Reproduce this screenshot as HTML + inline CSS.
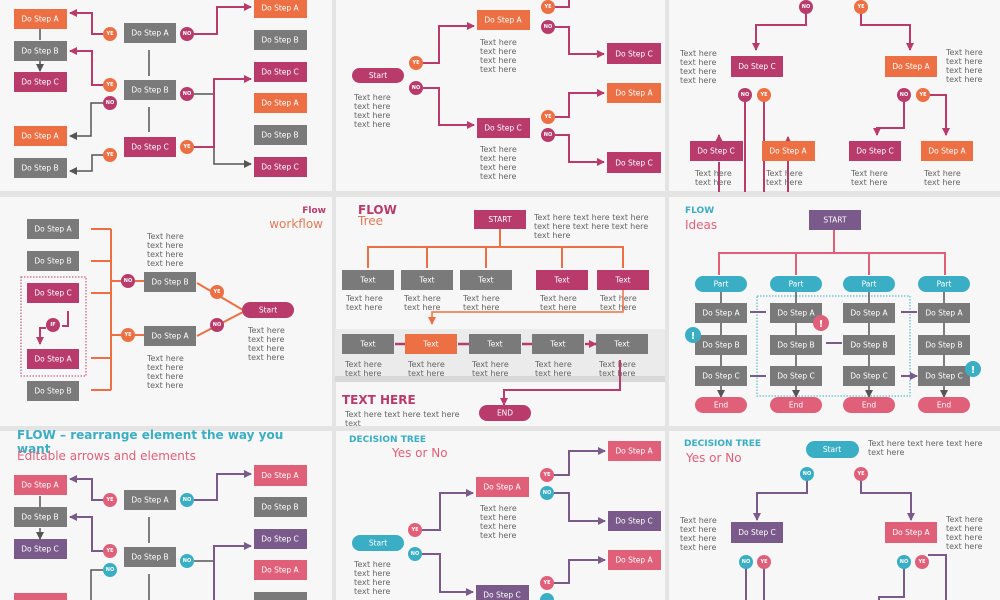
<!DOCTYPE html>
<html><head><meta charset="utf-8"><style>
html,body{margin:0;padding:0;background:#e4e4e4}
svg{display:block}
text{font-family:"DejaVu Sans","Liberation Sans",sans-serif}
.b{font-size:7.5px;fill:#fff;text-anchor:middle;dominant-baseline:central}
.t{font-size:8px;fill:#666}
.c{font-size:5px;fill:#fff;text-anchor:middle;dominant-baseline:central;font-weight:bold}
</style></head><body>
<svg width="1000" height="600" viewBox="0 0 1000 600" xmlns="http://www.w3.org/2000/svg">
<defs>
<marker id="am" markerWidth="10" markerHeight="10" refX="7" refY="4" orient="auto" markerUnits="userSpaceOnUse"><path d="M0,0L8,4L0,8z" fill="#b83b6c"/></marker>
<marker id="ag" markerWidth="10" markerHeight="10" refX="7" refY="4" orient="auto" markerUnits="userSpaceOnUse"><path d="M0,0L8,4L0,8z" fill="#555"/></marker>
<marker id="ao" markerWidth="10" markerHeight="10" refX="7" refY="4" orient="auto" markerUnits="userSpaceOnUse"><path d="M0,0L8,4L0,8z" fill="#ec7044"/></marker>
<marker id="ap" markerWidth="10" markerHeight="10" refX="7" refY="4" orient="auto" markerUnits="userSpaceOnUse"><path d="M0,0L8,4L0,8z" fill="#7a5a8a"/></marker>
</defs>
<rect width="1000" height="600" fill="#e4e4e4"/>
<rect x="0" y="0" width="332" height="191" fill="#f7f7f7"/>
<rect x="336" y="0" width="329" height="191" fill="#f7f7f7"/>
<rect x="669" y="0" width="331" height="191" fill="#f7f7f7"/>
<rect x="0" y="197" width="332" height="229" fill="#f7f7f7"/>
<rect x="336" y="197" width="329" height="229" fill="#f7f7f7"/>
<rect x="669" y="197" width="331" height="229" fill="#f7f7f7"/>
<rect x="0" y="431" width="332" height="169" fill="#f7f7f7"/>
<rect x="336" y="431" width="329" height="169" fill="#f7f7f7"/>
<rect x="669" y="431" width="331" height="169" fill="#f7f7f7"/>

<!-- PANEL 1 -->
<g fill="none" stroke-width="2">
<path d="M103,34H92V13H70" stroke="#b83b6c" marker-end="url(#am)"/>
<path d="M103,85H92V51H70" stroke="#b83b6c" marker-end="url(#am)"/>
<path d="M103,103H91V136H70" stroke="#555" stroke-width="1.5" marker-end="url(#ag)"/>
<path d="M103,155H92V171H70" stroke="#555" stroke-width="1.5" marker-end="url(#ag)"/>
<path d="M194,34H217V7H251" stroke="#b83b6c" marker-end="url(#am)"/>
<path d="M194,94H214V164H251" stroke="#555" stroke-width="1.5" marker-end="url(#ag)"/>
<path d="M194,147H214V79H251" stroke="#b83b6c" marker-end="url(#am)"/>
<path d="M149,50V76M149,107V132M40,29V40M40,61V71" stroke="#555" stroke-width="1.5" marker-end="url(#ag)"/>
</g>
<rect x="14" y="9" width="53" height="20" fill="#ec7044"/><text class="b" x="40" y="19">Do Step A</text>
<rect x="14" y="41" width="53" height="20" fill="#7a7a7a"/><text class="b" x="40" y="51">Do Step B</text>
<rect x="14" y="72" width="53" height="20" fill="#b83b6c"/><text class="b" x="40" y="82">Do Step C</text>
<rect x="14" y="126" width="53" height="20" fill="#ec7044"/><text class="b" x="40" y="136">Do Step A</text>
<rect x="14" y="158" width="53" height="20" fill="#7a7a7a"/><text class="b" x="40" y="168">Do Step B</text>
<rect x="124" y="23" width="52" height="20" fill="#7a7a7a"/><text class="b" x="150" y="33">Do Step A</text>
<rect x="124" y="80" width="52" height="20" fill="#7a7a7a"/><text class="b" x="150" y="90">Do Step B</text>
<rect x="124" y="137" width="52" height="20" fill="#b83b6c"/><text class="b" x="150" y="147">Do Step C</text>
<rect x="254" y="-2" width="53" height="20" fill="#ec7044"/><text class="b" x="280" y="8">Do Step A</text>
<rect x="254" y="30" width="53" height="20" fill="#7a7a7a"/><text class="b" x="280" y="40">Do Step B</text>
<rect x="254" y="62" width="53" height="20" fill="#b83b6c"/><text class="b" x="280" y="72">Do Step C</text>
<rect x="254" y="93" width="53" height="20" fill="#ec7044"/><text class="b" x="280" y="103">Do Step A</text>
<rect x="254" y="125" width="53" height="20" fill="#7a7a7a"/><text class="b" x="280" y="135">Do Step B</text>
<rect x="254" y="157" width="53" height="20" fill="#b83b6c"/><text class="b" x="280" y="167">Do Step C</text>
<circle cx="110" cy="34" r="7" fill="#ec7044"/><text class="c" x="110" y="34">YE</text>
<circle cx="187" cy="34" r="7" fill="#b83b6c"/><text class="c" x="187" y="34">NO</text>
<circle cx="110" cy="85" r="7" fill="#ec7044"/><text class="c" x="110" y="85">YE</text>
<circle cx="110" cy="103" r="7" fill="#b83b6c"/><text class="c" x="110" y="103">NO</text>
<circle cx="187" cy="94" r="7" fill="#b83b6c"/><text class="c" x="187" y="94">NO</text>
<circle cx="110" cy="155" r="7" fill="#ec7044"/><text class="c" x="110" y="155">YE</text>
<circle cx="187" cy="147" r="7" fill="#ec7044"/><text class="c" x="187" y="147">YE</text>

<!-- PANEL 2 -->
<g fill="none" stroke="#b83b6c" stroke-width="2">
<path d="M423,63H439V26H474" marker-end="url(#am)"/>
<path d="M423,88H439V125H474" marker-end="url(#am)"/>
<path d="M555,7H569V0"/>
<path d="M555,27H569V54H604" marker-end="url(#am)"/>
<path d="M555,117H569V93H604" marker-end="url(#am)"/>
<path d="M555,135H569V162H604" marker-end="url(#am)"/>
</g>
<rect x="352" y="68" width="52" height="15" rx="7.5" fill="#b83b6c"/><text class="b" x="378" y="75.5">Start</text>
<text class="t" x="354" y="100">Text here</text><text class="t" x="354" y="109">text here</text><text class="t" x="354" y="118">text here</text><text class="t" x="354" y="127">text here</text>
<rect x="477" y="10" width="53" height="20" fill="#ec7044"/><text class="b" x="503" y="20">Do Step A</text>
<text class="t" x="480" y="45">Text here</text><text class="t" x="480" y="54">text here</text><text class="t" x="480" y="63">text here</text><text class="t" x="480" y="72">text here</text>
<rect x="477" y="118" width="53" height="20" fill="#b83b6c"/><text class="b" x="503" y="128">Do Step C</text>
<text class="t" x="480" y="152">Text here</text><text class="t" x="480" y="161">text here</text><text class="t" x="480" y="170">text here</text><text class="t" x="480" y="179">text here</text>
<rect x="607" y="43" width="54" height="21" fill="#b83b6c"/><text class="b" x="634" y="54">Do Step C</text>
<rect x="607" y="83" width="54" height="20" fill="#ec7044"/><text class="b" x="634" y="93">Do Step A</text>
<rect x="607" y="152" width="54" height="21" fill="#b83b6c"/><text class="b" x="634" y="163">Do Step C</text>
<circle cx="416" cy="63" r="7" fill="#ec7044"/><text class="c" x="416" y="63">YE</text>
<circle cx="416" cy="88" r="7" fill="#b83b6c"/><text class="c" x="416" y="88">NO</text>
<circle cx="548" cy="7" r="7" fill="#ec7044"/><text class="c" x="548" y="7">YE</text>
<circle cx="548" cy="27" r="7" fill="#b83b6c"/><text class="c" x="548" y="27">NO</text>
<circle cx="548" cy="117" r="7" fill="#ec7044"/><text class="c" x="548" y="117">YE</text>
<circle cx="548" cy="135" r="7" fill="#b83b6c"/><text class="c" x="548" y="135">NO</text>

<!-- PANEL 3 -->
<g fill="none" stroke="#b83b6c" stroke-width="2">
<path d="M806,12V25H756V50" marker-end="url(#am)"/>
<path d="M861,12V25H910V50" marker-end="url(#am)"/>
<path d="M745,100V192M764,100V192"/>
<path d="M719,162V192"/>
<path d="M788,192V137" marker-end="url(#am)"/>
<path d="M719,142V135" marker-end="url(#am)"/>
<path d="M904,100V128H877V135" marker-end="url(#am)"/>
<path d="M928,95H946V135" marker-end="url(#am)"/>
</g>
<text class="t" x="680" y="56">Text here</text><text class="t" x="680" y="65">text here</text><text class="t" x="680" y="74">text here</text><text class="t" x="680" y="83">text here</text>
<rect x="731" y="56" width="52" height="21" fill="#b83b6c"/><text class="b" x="757" y="66.5">Do Step C</text>
<rect x="885" y="56" width="52" height="21" fill="#ec7044"/><text class="b" x="911" y="66.5">Do Step A</text>
<text class="t" x="946" y="55">Text here</text><text class="t" x="946" y="64">text here</text><text class="t" x="946" y="73">text here</text><text class="t" x="946" y="82">text here</text>
<rect x="690" y="141" width="53" height="20" fill="#b83b6c"/><text class="b" x="716" y="151">Do Step C</text>
<rect x="762" y="141" width="53" height="20" fill="#ec7044"/><text class="b" x="788" y="151">Do Step A</text>
<rect x="849" y="141" width="52" height="20" fill="#b83b6c"/><text class="b" x="875" y="151">Do Step C</text>
<rect x="921" y="141" width="52" height="20" fill="#ec7044"/><text class="b" x="947" y="151">Do Step A</text>
<text class="t" x="695" y="176">Text here</text><text class="t" x="695" y="185">text here</text>
<text class="t" x="766" y="176">Text here</text><text class="t" x="766" y="185">text here</text>
<text class="t" x="851" y="176">Text here</text><text class="t" x="851" y="185">text here</text>
<text class="t" x="924" y="176">Text here</text><text class="t" x="924" y="185">text here</text>
<circle cx="806" cy="7" r="7" fill="#b83b6c"/><text class="c" x="806" y="7">NO</text>
<circle cx="861" cy="7" r="7" fill="#ec7044"/><text class="c" x="861" y="7">YE</text>
<circle cx="745" cy="95" r="7" fill="#b83b6c"/><text class="c" x="745" y="95">NO</text>
<circle cx="764" cy="95" r="7" fill="#ec7044"/><text class="c" x="764" y="95">YE</text>
<circle cx="904" cy="95" r="7" fill="#b83b6c"/><text class="c" x="904" y="95">NO</text>
<circle cx="923" cy="95" r="7" fill="#ec7044"/><text class="c" x="923" y="95">YE</text>

<!-- PANEL 4 -->
<text x="326" y="213" text-anchor="end" font-size="9" font-weight="bold" fill="#b83b6c">Flow</text>
<text x="323" y="228" text-anchor="end" font-size="12" fill="#e07a58">workflow</text>
<g fill="none" stroke="#ec7044" stroke-width="2">
<path d="M91,229H111M91,261H111M91,293H111M91,358H111M91,390H111M111,229V390M111,281H144M111,335H144"/>
<path d="M197,283L243,310M197,336L243,312"/>
</g>
<rect x="21" y="277" width="65" height="99" fill="none" stroke="#b83b6c" stroke-width="1" stroke-dasharray="1.5,1.5"/>
<path d="M68,311V326H62M46,328H40V344" fill="none" stroke="#b83b6c" stroke-width="2" marker-end="url(#am)"/>
<rect x="27" y="219" width="52" height="20" fill="#7a7a7a"/><text class="b" x="53" y="229">Do Step A</text>
<rect x="27" y="251" width="52" height="20" fill="#7a7a7a"/><text class="b" x="53" y="261">Do Step B</text>
<rect x="27" y="283" width="52" height="20" fill="#b83b6c"/><text class="b" x="53" y="293">Do Step C</text>
<rect x="27" y="349" width="52" height="20" fill="#b83b6c"/><text class="b" x="53" y="359">Do Step A</text>
<rect x="27" y="381" width="52" height="20" fill="#7a7a7a"/><text class="b" x="53" y="391">Do Step B</text>
<circle cx="53" cy="325" r="7" fill="#b83b6c"/><text class="c" x="53" y="325">IF</text>
<rect x="144" y="272" width="52" height="20" fill="#7a7a7a"/><text class="b" x="170" y="282">Do Step B</text>
<rect x="144" y="326" width="52" height="20" fill="#7a7a7a"/><text class="b" x="170" y="336">Do Step A</text>
<text class="t" x="147" y="239">Text here</text><text class="t" x="147" y="248">text here</text><text class="t" x="147" y="257">text here</text><text class="t" x="147" y="266">text here</text>
<text class="t" x="147" y="361">Text here</text><text class="t" x="147" y="370">text here</text><text class="t" x="147" y="379">text here</text><text class="t" x="147" y="388">text here</text>
<circle cx="128" cy="281" r="7" fill="#b83b6c"/><text class="c" x="128" y="281">NO</text>
<circle cx="128" cy="335" r="7" fill="#ec7044"/><text class="c" x="128" y="335">YE</text>
<circle cx="217" cy="292" r="7" fill="#ec7044"/><text class="c" x="217" y="292">YE</text>
<circle cx="217" cy="325" r="7" fill="#b83b6c"/><text class="c" x="217" y="325">NO</text>
<rect x="242" y="302" width="52" height="16" rx="8" fill="#b83b6c"/><text class="b" x="268" y="310">Start</text>
<text class="t" x="248" y="333">Text here</text><text class="t" x="248" y="342">text here</text><text class="t" x="248" y="351">text here</text><text class="t" x="248" y="360">text here</text>

<!-- PANEL 5 -->
<text x="358" y="214" font-size="12" font-weight="bold" fill="#b83b6c">FLOW</text>
<text x="358" y="225" font-size="12" fill="#e07a58">Tree</text>
<rect x="474" y="210" width="52" height="19" fill="#b83b6c"/><text class="b" x="500" y="219.5">START</text>
<text class="t" x="534" y="220">Text here text here text here</text><text class="t" x="534" y="229">text here text here text here</text><text class="t" x="534" y="238">text here</text>
<path d="M500,229V247M368,268V247H623V268M427,247V268M486,247V268M562,247V268" fill="none" stroke="#ec7044" stroke-width="2"/>
<rect x="335" y="329" width="330" height="53" fill="#ebebeb"/>
<rect x="335" y="376" width="330" height="6" fill="#d8d8d8"/>
<rect x="342" y="270" width="52" height="20" fill="#7a7a7a"/><text class="b" x="368" y="280">Text</text>
<rect x="401" y="270" width="52" height="20" fill="#7a7a7a"/><text class="b" x="427" y="280">Text</text>
<rect x="460" y="270" width="52" height="20" fill="#7a7a7a"/><text class="b" x="486" y="280">Text</text>
<rect x="536" y="270" width="52" height="20" fill="#b83b6c"/><text class="b" x="562" y="280">Text</text>
<rect x="597" y="270" width="52" height="20" fill="#b83b6c"/><text class="b" x="623" y="280">Text</text>
<text class="t" x="346" y="301">Text here</text><text class="t" x="346" y="310">text here</text>
<text class="t" x="404" y="301">Text here</text><text class="t" x="404" y="310">text here</text>
<text class="t" x="463" y="301">Text here</text><text class="t" x="463" y="310">text here</text>
<text class="t" x="540" y="301">Text here</text><text class="t" x="540" y="310">text here</text>
<text class="t" x="600" y="301">Text here</text><text class="t" x="600" y="310">text here</text>
<path d="M623,290V312H432V324" fill="none" stroke="#ec7044" stroke-width="1.5" marker-end="url(#ao)"/>
<rect x="342" y="334" width="52" height="20" fill="#7a7a7a"/><text class="b" x="368" y="344">Text</text>
<rect x="405" y="334" width="52" height="20" fill="#ec7044"/><text class="b" x="431" y="344">Text</text>
<rect x="469" y="334" width="52" height="20" fill="#7a7a7a"/><text class="b" x="495" y="344">Text</text>
<rect x="532" y="334" width="52" height="20" fill="#7a7a7a"/><text class="b" x="558" y="344">Text</text>
<rect x="596" y="334" width="52" height="20" fill="#7a7a7a"/><text class="b" x="622" y="344">Text</text>
<path d="M395,344H405M458,344H469M522,344H532M585,344H596" fill="none" stroke="#b83b6c" stroke-width="2.5" marker-end="url(#am)"/>
<text class="t" x="345" y="367">Text here</text><text class="t" x="345" y="376">text here</text>
<text class="t" x="408" y="367">Text here</text><text class="t" x="408" y="376">text here</text>
<text class="t" x="472" y="367">Text here</text><text class="t" x="472" y="376">text here</text>
<text class="t" x="535" y="367">Text here</text><text class="t" x="535" y="376">text here</text>
<text class="t" x="599" y="367">Text here</text><text class="t" x="599" y="376">text here</text>
<path d="M620,360V390H504V405" fill="none" stroke="#b83b6c" stroke-width="2" marker-end="url(#am)"/>
<text x="342" y="404" font-size="12" font-weight="bold" fill="#b83b6c">TEXT HERE</text>
<text class="t" x="345" y="417">Text here text here text here</text><text class="t" x="345" y="426">text</text>
<rect x="479" y="405" width="52" height="16" rx="8" fill="#b83b6c"/><text class="b" x="505" y="413">END</text>

<!-- PANEL 6 -->
<text x="685" y="213" font-size="9" font-weight="bold" fill="#3aaec4">FLOW</text>
<text x="685" y="229" font-size="12" fill="#e0607a">Ideas</text>
<rect x="809" y="210" width="52" height="20" fill="#7a5a8a"/><text class="b" x="835" y="220">START</text>
<path d="M834,230V253M719,275V253H945V275M796,253V275M869,253V275" fill="none" stroke="#e0607a" stroke-width="2"/>
<rect x="757" y="296" width="153" height="100" fill="none" stroke="#3aaec4" stroke-width="1" stroke-dasharray="1.5,1.5"/>
<rect x="695" y="276" width="52" height="16" rx="8" fill="#3aaec4"/><text class="b" x="721" y="284">Part</text>
<rect x="770" y="276" width="52" height="16" rx="8" fill="#3aaec4"/><text class="b" x="796" y="284">Part</text>
<rect x="843" y="276" width="52" height="16" rx="8" fill="#3aaec4"/><text class="b" x="869" y="284">Part</text>
<rect x="918" y="276" width="52" height="16" rx="8" fill="#3aaec4"/><text class="b" x="944" y="284">Part</text>
<g fill="none" stroke="#555" stroke-width="1.5" marker-end="url(#ag)">
<path d="M721,292V303M721,323V335M721,355V366M721,386V397"/>
<path d="M796,292V303M796,323V335M796,355V366M796,386V397"/>
<path d="M869,292V303M869,323V335M869,355V366M869,386V397"/>
<path d="M944,292V303M944,323V335M944,355V366M944,386V397"/>
</g>
<rect x="695" y="303" width="52" height="20" fill="#7a7a7a"/><text class="b" x="721" y="313">Do Step A</text>
<rect x="695" y="335" width="52" height="20" fill="#7a7a7a"/><text class="b" x="721" y="345">Do Step B</text>
<rect x="695" y="366" width="52" height="20" fill="#7a7a7a"/><text class="b" x="721" y="376">Do Step C</text>
<rect x="770" y="303" width="52" height="20" fill="#7a7a7a"/><text class="b" x="796" y="313">Do Step A</text>
<rect x="770" y="335" width="52" height="20" fill="#7a7a7a"/><text class="b" x="796" y="345">Do Step B</text>
<rect x="770" y="366" width="52" height="20" fill="#7a7a7a"/><text class="b" x="796" y="376">Do Step C</text>
<rect x="843" y="303" width="52" height="20" fill="#7a7a7a"/><text class="b" x="869" y="313">Do Step A</text>
<rect x="843" y="335" width="52" height="20" fill="#7a7a7a"/><text class="b" x="869" y="345">Do Step B</text>
<rect x="843" y="366" width="52" height="20" fill="#7a7a7a"/><text class="b" x="869" y="376">Do Step C</text>
<rect x="918" y="303" width="52" height="20" fill="#7a7a7a"/><text class="b" x="944" y="313">Do Step A</text>
<rect x="918" y="335" width="52" height="20" fill="#7a7a7a"/><text class="b" x="944" y="345">Do Step B</text>
<rect x="918" y="366" width="52" height="20" fill="#7a7a7a"/><text class="b" x="944" y="376">Do Step C</text>
<rect x="695" y="397" width="52" height="16" rx="8" fill="#e0607a"/><text class="b" x="721" y="405">End</text>
<rect x="770" y="397" width="52" height="16" rx="8" fill="#e0607a"/><text class="b" x="796" y="405">End</text>
<rect x="843" y="397" width="52" height="16" rx="8" fill="#e0607a"/><text class="b" x="869" y="405">End</text>
<rect x="918" y="397" width="52" height="16" rx="8" fill="#e0607a"/><text class="b" x="944" y="405">End</text>
<path d="M750,312H766M750,376H766M826,343H842M901,312H917M901,376H917" fill="none" stroke="#7a5a8a" stroke-width="2" marker-end="url(#ap)"/>
<circle cx="693" cy="335" r="8" fill="#3aaec4"/><text x="693" y="339" font-size="10" font-weight="bold" fill="#fff" text-anchor="middle">!</text>
<circle cx="821" cy="323" r="8" fill="#e0607a"/><text x="821" y="327" font-size="10" font-weight="bold" fill="#fff" text-anchor="middle">!</text>
<circle cx="973" cy="369" r="8" fill="#3aaec4"/><text x="973" y="373" font-size="10" font-weight="bold" fill="#fff" text-anchor="middle">!</text>

<!-- PANEL 7 -->
<text x="17" y="439" font-size="12" font-weight="bold" fill="#3aaec4">FLOW – rearrange element the way you</text>
<text x="17" y="453" font-size="12" font-weight="bold" fill="#3aaec4">want</text>
<text x="17" y="460" font-size="12" fill="#e0607a">Editable arrows and elements</text>
<g fill="none" stroke-width="2">
<path d="M103,500H92V479H70" stroke="#7a5a8a" marker-end="url(#ap)"/>
<path d="M103,551H92V517H70" stroke="#7a5a8a" marker-end="url(#ap)"/>
<path d="M103,570H91V600" stroke="#555" stroke-width="1.5"/>
<path d="M194,500H217V474H251" stroke="#7a5a8a" marker-end="url(#ap)"/>
<path d="M194,561H214V600" stroke="#555" stroke-width="1.5"/>
<path d="M214,600V546H251" stroke="#7a5a8a" marker-end="url(#ap)"/>
<path d="M149,517V543M149,574V600M40,496V507M40,528V539" stroke="#555" stroke-width="1.5" marker-end="url(#ag)"/>
</g>
<rect x="14" y="475" width="53" height="20" fill="#e0607a"/><text class="b" x="40" y="485">Do Step A</text>
<rect x="14" y="507" width="53" height="20" fill="#7a7a7a"/><text class="b" x="40" y="517">Do Step B</text>
<rect x="14" y="539" width="53" height="20" fill="#7a5a8a"/><text class="b" x="40" y="549">Do Step C</text>
<rect x="14" y="593" width="53" height="20" fill="#e0607a"/>
<rect x="124" y="490" width="52" height="20" fill="#7a7a7a"/><text class="b" x="150" y="500">Do Step A</text>
<rect x="124" y="547" width="52" height="20" fill="#7a7a7a"/><text class="b" x="150" y="557">Do Step B</text>
<rect x="254" y="465" width="53" height="21" fill="#e0607a"/><text class="b" x="280" y="475.5">Do Step A</text>
<rect x="254" y="497" width="53" height="20" fill="#7a7a7a"/><text class="b" x="280" y="507">Do Step B</text>
<rect x="254" y="529" width="53" height="20" fill="#7a5a8a"/><text class="b" x="280" y="539">Do Step C</text>
<rect x="254" y="560" width="53" height="20" fill="#e0607a"/><text class="b" x="280" y="570">Do Step A</text>
<rect x="254" y="592" width="53" height="20" fill="#7a7a7a"/>
<circle cx="110" cy="500" r="7" fill="#e0607a"/><text class="c" x="110" y="500">YE</text>
<circle cx="187" cy="500" r="7" fill="#3aaec4"/><text class="c" x="187" y="500">NO</text>
<circle cx="110" cy="551" r="7" fill="#e0607a"/><text class="c" x="110" y="551">YE</text>
<circle cx="110" cy="570" r="7" fill="#3aaec4"/><text class="c" x="110" y="570">NO</text>
<circle cx="187" cy="561" r="7" fill="#3aaec4"/><text class="c" x="187" y="561">NO</text>

<!-- PANEL 8 -->
<text x="349" y="442" font-size="9" font-weight="bold" fill="#3aaec4">DECISION TREE</text>
<text x="392" y="457" font-size="12" fill="#e0607a">Yes or No</text>
<g fill="none" stroke="#7a5a8a" stroke-width="2">
<path d="M422,530H440V493H473" marker-end="url(#ap)"/>
<path d="M422,554H440V592H473" marker-end="url(#ap)"/>
<path d="M554,475H569V451H605" marker-end="url(#ap)"/>
<path d="M554,493H569V521H605" marker-end="url(#ap)"/>
<path d="M554,583H569V560H605" marker-end="url(#ap)"/>
</g>
<rect x="352" y="535" width="52" height="16" rx="8" fill="#3aaec4"/><text class="b" x="378" y="543">Start</text>
<text class="t" x="354" y="567">Text here</text><text class="t" x="354" y="576">text here</text><text class="t" x="354" y="585">text here</text><text class="t" x="354" y="594">text here</text>
<rect x="476" y="477" width="53" height="20" fill="#e0607a"/><text class="b" x="502" y="487">Do Step A</text>
<text class="t" x="480" y="511">Text here</text><text class="t" x="480" y="520">text here</text><text class="t" x="480" y="529">text here</text><text class="t" x="480" y="538">text here</text>
<rect x="476" y="585" width="53" height="20" fill="#7a5a8a"/><text class="b" x="502" y="595">Do Step C</text>
<rect x="608" y="441" width="53" height="20" fill="#e0607a"/><text class="b" x="634" y="451">Do Step A</text>
<rect x="608" y="511" width="53" height="20" fill="#7a5a8a"/><text class="b" x="634" y="521">Do Step C</text>
<rect x="608" y="550" width="53" height="20" fill="#e0607a"/><text class="b" x="634" y="560">Do Step A</text>
<circle cx="415" cy="530" r="7" fill="#e0607a"/><text class="c" x="415" y="530">YE</text>
<circle cx="415" cy="554" r="7" fill="#3aaec4"/><text class="c" x="415" y="554">NO</text>
<circle cx="547" cy="475" r="7" fill="#e0607a"/><text class="c" x="547" y="475">YE</text>
<circle cx="547" cy="493" r="7" fill="#3aaec4"/><text class="c" x="547" y="493">NO</text>
<circle cx="547" cy="583" r="7" fill="#e0607a"/><text class="c" x="547" y="583">YE</text>
<circle cx="547" cy="600" r="7" fill="#3aaec4"/>

<!-- PANEL 9 -->
<text x="684" y="446" font-size="9" font-weight="bold" fill="#3aaec4">DECISION TREE</text>
<text x="686" y="462" font-size="12" fill="#e0607a">Yes or No</text>
<rect x="806" y="441" width="53" height="17" rx="8.5" fill="#3aaec4"/><text class="b" x="832" y="449.5">Start</text>
<text class="t" x="868" y="446">Text here text here text here</text><text class="t" x="868" y="455">text here</text>
<g fill="none" stroke="#7a5a8a" stroke-width="2">
<path d="M807,479V493H757V520" marker-end="url(#ap)"/>
<path d="M861,479V493H911V520" marker-end="url(#ap)"/>
<path d="M746,567V600M764,567V600"/>
<path d="M904,567V597H879V600"/>
<path d="M928,555H946V600"/>
</g>
<text class="t" x="680" y="523">Text here</text><text class="t" x="680" y="532">text here</text><text class="t" x="680" y="541">text here</text><text class="t" x="680" y="550">text here</text>
<rect x="731" y="522" width="52" height="21" fill="#7a5a8a"/><text class="b" x="757" y="532.5">Do Step C</text>
<rect x="885" y="522" width="52" height="21" fill="#e0607a"/><text class="b" x="911" y="532.5">Do Step A</text>
<text class="t" x="946" y="522">Text here</text><text class="t" x="946" y="531">text here</text><text class="t" x="946" y="540">text here</text><text class="t" x="946" y="549">text here</text>
<circle cx="807" cy="474" r="7" fill="#3aaec4"/><text class="c" x="807" y="474">NO</text>
<circle cx="861" cy="474" r="7" fill="#e0607a"/><text class="c" x="861" y="474">YE</text>
<circle cx="746" cy="562" r="7" fill="#3aaec4"/><text class="c" x="746" y="562">NO</text>
<circle cx="764" cy="562" r="7" fill="#e0607a"/><text class="c" x="764" y="562">YE</text>
<circle cx="904" cy="562" r="7" fill="#3aaec4"/><text class="c" x="904" y="562">NO</text>
<circle cx="922" cy="562" r="7" fill="#e0607a"/><text class="c" x="922" y="562">YE</text>
</svg>
</body></html>
